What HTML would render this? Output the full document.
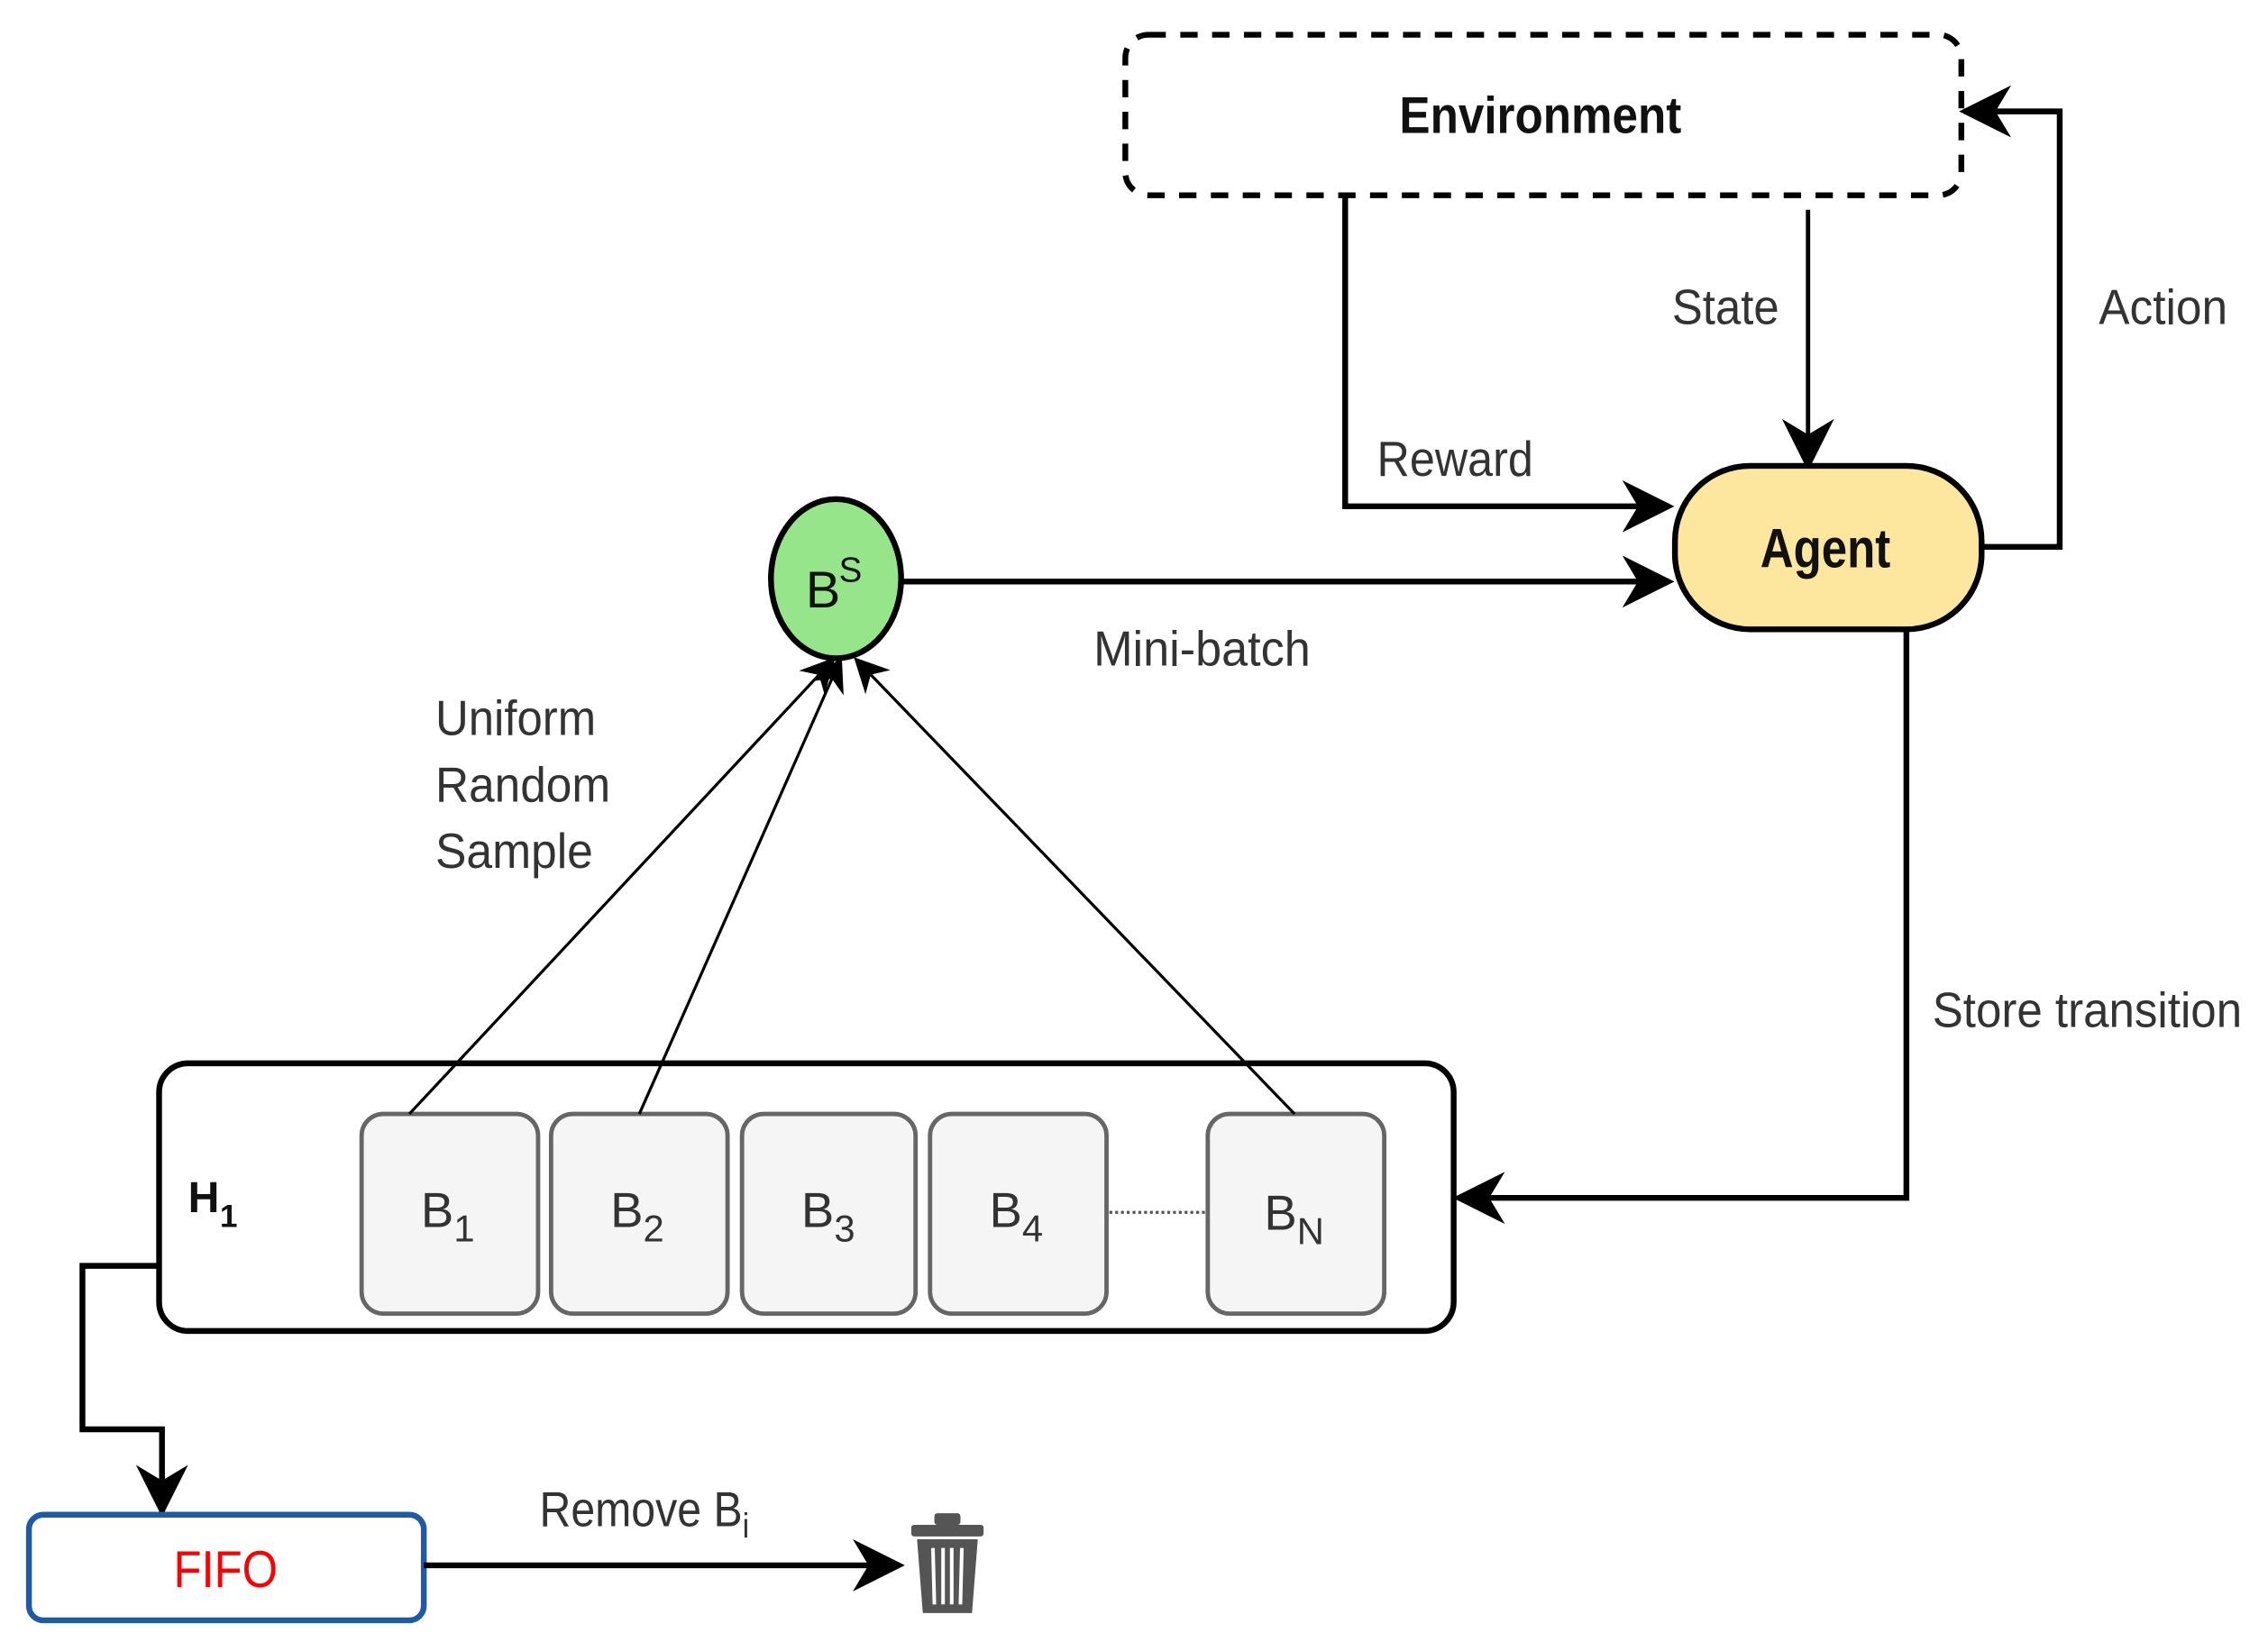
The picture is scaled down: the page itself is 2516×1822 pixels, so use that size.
<!DOCTYPE html>
<html><head><meta charset="utf-8"><style>
html,body{margin:0;padding:0;background:#fff;}
svg{display:block;}
text{font-family:"Liberation Sans Narrow","Liberation Sans",sans-serif;}
</style></head><body>
<svg width="2516" height="1822" viewBox="0 0 1568 1135" preserveAspectRatio="none" xmlns="http://www.w3.org/2000/svg">
<defs>
<marker id="ah" viewBox="0 0 10 10" refX="9" refY="5" markerWidth="9" markerHeight="9" orient="auto" markerUnits="strokeWidth"><path d="M0,0 L10,5 L0,10 L3,5 z" fill="#000"/></marker>
<marker id="ahs" viewBox="0 0 10 10" refX="9" refY="5" markerWidth="12" markerHeight="12" orient="auto" markerUnits="strokeWidth"><path d="M0,0 L10,5 L0,10 L3,5 z" fill="#000"/></marker>
</defs>
<rect width="1568" height="1135" fill="#fff"/>
<rect x="778" y="24" width="578" height="111" rx="16" fill="#fff" stroke="#000" stroke-width="4" stroke-dasharray="12,10"/>
<text x="1065" y="92" font-size="36" font-weight="bold" text-anchor="middle" fill="#111" textLength="195" lengthAdjust="spacingAndGlyphs">Environment</text>
<polyline points="930,135 930,350 1154,350" fill="none" stroke="#000" stroke-width="4" marker-end="url(#ah)"/>
<text x="952" y="329" font-size="34" fill="#333" textLength="108" lengthAdjust="spacingAndGlyphs">Reward</text>
<line x1="1250" y1="145" x2="1250" y2="322" stroke="#000" stroke-width="3" marker-end="url(#ahs)"/>
<text x="1156" y="224" font-size="34" fill="#333" textLength="74" lengthAdjust="spacingAndGlyphs">State</text>
<polyline points="1370,378 1424,378 1424,77 1358,77" fill="none" stroke="#000" stroke-width="4" marker-end="url(#ah)"/>
<text x="1451" y="224" font-size="34" fill="#333" textLength="89" lengthAdjust="spacingAndGlyphs">Action</text>
<rect x="1158" y="322" width="212" height="113" rx="52" fill="#fde79e" stroke="#000" stroke-width="4"/>
<text x="1262" y="392" font-size="38" font-weight="bold" text-anchor="middle" fill="#111" textLength="90" lengthAdjust="spacingAndGlyphs">Agent</text>
<ellipse cx="578" cy="400" rx="45" ry="55" fill="#97e58a" stroke="#000" stroke-width="4"/>
<text x="557" y="420" font-size="36" fill="#111">B</text>
<text x="580" y="402" font-size="24" fill="#111">S</text>
<line x1="624" y1="402" x2="1154" y2="402" stroke="#000" stroke-width="4" marker-end="url(#ah)"/>
<text x="756" y="460" font-size="34" fill="#333" textLength="150" lengthAdjust="spacingAndGlyphs">Mini-batch</text>
<text x="301" y="508" font-size="34" fill="#333" textLength="111" lengthAdjust="spacingAndGlyphs">Uniform</text>
<text x="301" y="554" font-size="34" fill="#333" textLength="121" lengthAdjust="spacingAndGlyphs">Random</text>
<text x="301" y="600" font-size="34" fill="#333" textLength="109" lengthAdjust="spacingAndGlyphs">Sample</text>
<polyline points="1318,435 1318,828 1008,828" fill="none" stroke="#000" stroke-width="4" marker-end="url(#ah)"/>
<text x="1336" y="710" font-size="34" fill="#333" textLength="214" lengthAdjust="spacingAndGlyphs">Store transition</text>
<rect x="110" y="735" width="895" height="185" rx="20" fill="#fff" stroke="#000" stroke-width="4"/>
<text x="130" y="838" font-size="30" font-weight="bold" fill="#111">H</text>
<text x="152" y="848" font-size="22" font-weight="bold" fill="#111">1</text>
<g fill="#f5f5f5" stroke="#666" stroke-width="3">
<rect x="250" y="770" width="122" height="138" rx="15"/>
<rect x="381" y="770" width="122" height="138" rx="15"/>
<rect x="513" y="770" width="120" height="138" rx="15"/>
<rect x="643" y="770" width="122" height="138" rx="15"/>
<rect x="835" y="770" width="122" height="138" rx="15"/>
</g>
<line x1="767" y1="838" x2="833" y2="838" stroke="#555" stroke-width="2" stroke-dasharray="2,2"/>
<g fill="#333" font-size="34">
<text x="291" y="848">B<tspan font-size="26" dy="10">1</tspan></text>
<text x="422" y="848">B<tspan font-size="26" dy="10">2</tspan></text>
<text x="554" y="848">B<tspan font-size="26" dy="10">3</tspan></text>
<text x="684" y="848">B<tspan font-size="26" dy="10">4</tspan></text>
<text x="874" y="850">B<tspan font-size="26" dy="10">N</tspan></text>
</g>
<line x1="283" y1="770" x2="576" y2="456" stroke="#000" stroke-width="2" marker-end="url(#ahs)"/>
<line x1="442" y1="770" x2="581" y2="456" stroke="#000" stroke-width="2" marker-end="url(#ahs)"/>
<line x1="895" y1="770" x2="592" y2="456" stroke="#000" stroke-width="2" marker-end="url(#ahs)"/>
<polyline points="110,875 57,875 57,988 112,988 112,1045" fill="none" stroke="#000" stroke-width="4" marker-end="url(#ah)"/>
<rect x="20" y="1047" width="273" height="73" rx="10" fill="#fff" stroke="#1f5aa6" stroke-width="4"/>
<text x="156" y="1097" font-size="36" fill="#ff0000" text-anchor="middle" textLength="72" lengthAdjust="spacingAndGlyphs">FIFO</text>
<line x1="293" y1="1082" x2="622" y2="1082" stroke="#000" stroke-width="4" marker-end="url(#ah)"/>
<text x="373" y="1055" font-size="34" fill="#333" textLength="145" lengthAdjust="spacingAndGlyphs">Remove B<tspan font-size="24" dy="8">i</tspan></text>
<g fill="#555">
<rect x="646" y="1046" width="18" height="8" rx="2"/>
<rect x="630" y="1054" width="50" height="8" rx="2"/>
<path d="M634,1064 L676,1064 L672,1115 L638,1115 z"/>
</g>
<g stroke="#fff" stroke-width="2.5">
<line x1="645" y1="1070" x2="646" y2="1109"/>
<line x1="652" y1="1070" x2="652" y2="1109"/>
<line x1="658" y1="1070" x2="658" y2="1109"/>
<line x1="665" y1="1070" x2="664" y2="1109"/>
</g>
</svg>
</body></html>
